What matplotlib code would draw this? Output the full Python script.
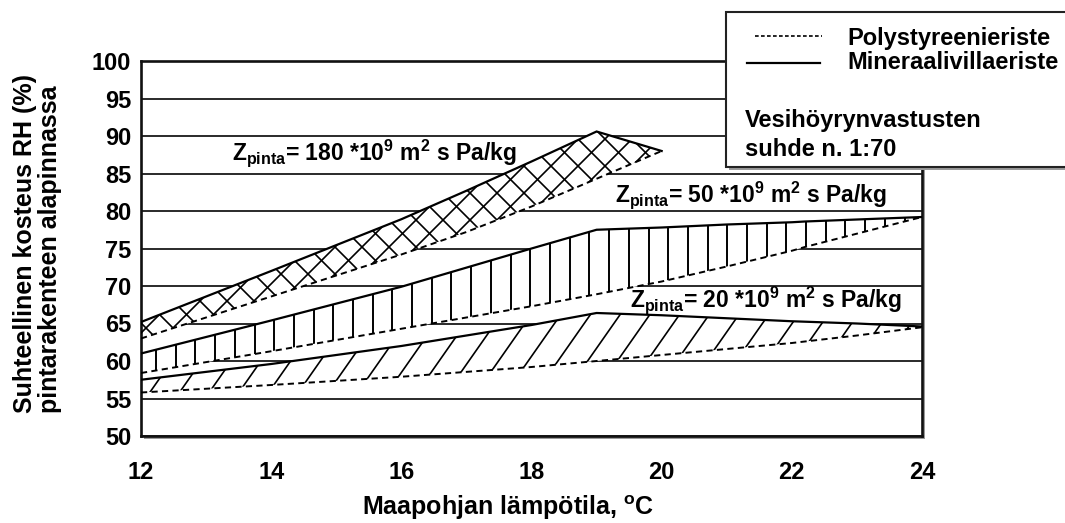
import numpy as np
import matplotlib
matplotlib.use("Agg")
import matplotlib.pyplot as plt
from matplotlib.collections import LineCollection
from matplotlib.patches import Rectangle
from matplotlib.lines import Line2D

plt.rcParams['font.family'] = ['Liberation Sans', 'DejaVu Sans']
plt.rcParams['font.weight'] = 'bold'
plt.rcParams['mathtext.fontset'] = 'custom'
plt.rcParams['mathtext.rm'] = 'Liberation Sans'
plt.rcParams['mathtext.bf'] = 'Liberation Sans:bold'
plt.rcParams['mathtext.it'] = 'Liberation Sans:italic'

# --- data: relative humidity (%) vs ground temperature (degC) ---
# Z_pinta = 180e9 m2 s Pa/kg
t180 = [12, 14, 16, 17, 18, 19, 20]
rh180_mineral = [65.2, 72.0, 78.9, 82.7, 86.6, 90.6, 88.0]
rh180_polystyr = [63.0, 68.6, 74.2, 77.2, 80.6, 84.3, 88.0]

# Z_pinta = 50e9 m2 s Pa/kg
t50 = [12, 14, 16, 18, 19, 20, 21, 22, 22.2, 24]
rh50_mineral = [61.0, 65.4, 69.9, 75.0, 77.5, 77.8, 78.2, 78.5, 78.6, 79.2]
rh50_polystyr = [58.4, 61.3, 64.3, 67.3, 68.9, 70.6, 72.6, 74.7, 75.2, 79.2]

# Z_pinta = 20e9 m2 s Pa/kg
t20 = [12, 14, 16, 18, 19, 20, 21, 22, 23, 24]
rh20_mineral = [57.5, 59.6, 62.0, 64.8, 66.4, 66.1, 65.7, 65.3, 65.0, 64.6]
rh20_polystyr = [55.8, 56.8, 57.9, 59.2, 60.0, 60.8, 61.6, 62.4, 63.4, 64.5]

xticks = [12, 14, 16, 18, 20, 22, 24]
yticks = list(range(50, 101, 5))

W_PX, H_PX = 1065, 523
fig = plt.figure(figsize=(W_PX / 100, H_PX / 100), dpi=100)


def fx(px):
    return px / W_PX


def fy(py):
    return 1 - py / H_PX


# axes box in pixels (left, top, right, bottom)
AX_L, AX_T, AX_R, AX_B = 141, 61, 922, 436
ax = fig.add_axes([fx(AX_L), fy(AX_B), fx(AX_R - AX_L), (AX_B - AX_T) / H_PX])
ax_w, ax_h = AX_R - AX_L, AX_B - AX_T

# drop shadow behind the plot frame
fig.patches.append(Rectangle((fx(AX_L + 3), fy(AX_B + 3)), fx(AX_R - AX_L), (AX_B - AX_T) / H_PX,
                             transform=fig.transFigure, facecolor='#9a9a9a', edgecolor='none',
                             zorder=-1))

ax.set_xlim(12, 24)
ax.set_ylim(50, 100)
ax.set_xticks(xticks)
ax.set_xticklabels([str(v) for v in xticks])
ax.set_yticks(yticks)
ax.set_yticklabels([str(v) for v in yticks])
ax.tick_params(axis='both', length=0, labelsize=17)
ax.tick_params(axis='x', pad=18)
ax.tick_params(axis='y', pad=7)
for lab in ax.get_xticklabels() + ax.get_yticklabels():
    lab.set_fontweight('bold')
for s in ax.spines.values():
    s.set_linewidth(1.9)
    s.set_color('#111111')
ax.yaxis.grid(True, color='#2a2a2a', linewidth=1.4)
ax.set_axisbelow(True)


def hatch_band(t, low, up, angles, spacing, phase=0.0, lw=1.2):
    poly = ax.fill_between(t, low, up, facecolor='white', edgecolor='none', zorder=2)
    clip = poly.get_paths()[0]
    segs = []
    for ang in angles:
        th = np.deg2rad(ang)
        dx = np.cos(th) / np.sin(th)
        if abs(dx) < 1e-9:
            dx = 0.0
        # x-intercepts at the bottom of the axes, spaced horizontally in pixels
        span = abs(dx) * ax_h
        k0 = int(np.floor((-span - phase) / spacing)) - 1
        k1 = int(np.ceil((ax_w + span - phase) / spacing)) + 1
        for k in range(k0, k1 + 1):
            c = phase + k * spacing
            segs.append([(c / ax_w, 0.0), ((c + dx * ax_h) / ax_w, 1.0)])
    lc = LineCollection(segs, colors='black', linewidths=lw, transform=ax.transAxes, zorder=3)
    ax.add_collection(lc)
    lc.set_clip_path(clip, ax.transData)


hatch_band(t180, rh180_polystyr, rh180_mineral, [45, 135], 27, phase=5)
hatch_band(t50, rh50_polystyr, rh50_mineral, [90], 19.7, phase=15, lw=1.4)
hatch_band(t20, rh20_polystyr, rh20_mineral, [55], 29.7, phase=8)

dash = (0, (3.2, 2.2))
for t, low, up in [(t180, rh180_polystyr, rh180_mineral),
                   (t50, rh50_polystyr, rh50_mineral),
                   (t20, rh20_polystyr, rh20_mineral)]:
    ax.plot(t, up, color='black', linewidth=1.6, zorder=4, solid_joinstyle='miter')
    ax.plot(t, low, color='black', linewidth=1.4, linestyle=dash, zorder=4)

# curve labels
lab_kw = dict(fontsize=16.5, fontweight='bold', va='center', ha='left', zorder=6,
              transform=fig.transFigure)
fig.text(fx(232), fy(153), r'$\mathbf{Z}_{\mathrm{pinta}}$= 180 *10$^{\mathbf{9}}$ m$^{\mathbf{2}}$ s Pa/kg', **lab_kw)
fig.text(fx(615), fy(195), r'$\mathbf{Z}_{\mathrm{pinta}}$= 50 *10$^{\mathbf{9}}$ m$^{\mathbf{2}}$ s Pa/kg', **lab_kw)
fig.text(fx(630), fy(300), r'$\mathbf{Z}_{\mathrm{pinta}}$= 20 *10$^{\mathbf{9}}$ m$^{\mathbf{2}}$ s Pa/kg', **lab_kw)

# axis titles
fig.text(fx(508), fy(508), 'Maapohjan lämpötila, $^{\\mathbf{o}}$C', fontsize=18,
         fontweight='bold', ha='center', va='center')
fig.text(fx(37.5), fy(413), 'Suhteellinen kosteus RH (%)\npintarakenteen alapinnassa',
         fontsize=18, fontweight='bold', rotation=90, ha='center', va='bottom',
         multialignment='left', linespacing=1.1)

# key box over the upper right corner
BOX_L, BOX_T, BOX_B = 726, 12, 167
fig.patches.append(Rectangle((fx(BOX_L + 3), fy(BOX_B + 3)), 0.5, (BOX_B - BOX_T) / H_PX,
                             transform=fig.transFigure, facecolor='#9a9a9a', edgecolor='none',
                             zorder=7))
fig.patches.append(Rectangle((fx(BOX_L), fy(BOX_B)), 0.5, (BOX_B - BOX_T) / H_PX,
                             transform=fig.transFigure, facecolor='white', edgecolor='#222222',
                             linewidth=1.5, zorder=8))
fig.lines.append(Line2D([fx(755), fx(822)], [fy(36), fy(36)], transform=fig.transFigure,
                        color='black', linewidth=1.2, linestyle=(0, (2.2, 1.4)), zorder=9))
fig.lines.append(Line2D([fx(747), fx(820)], [fy(63), fy(63)], transform=fig.transFigure,
                        color='black', linewidth=1.6, zorder=9))
key_kw = dict(fontsize=17, fontweight='bold', ha='left', va='center', zorder=10)
fig.text(fx(847), fy(39), 'Polystyreenieriste', **key_kw)
fig.text(fx(847), fy(62), 'Mineraalivillaeriste', **key_kw)
fig.text(fx(745), fy(121), 'Vesihöyrynvastusten', **key_kw)
fig.text(fx(745), fy(149), 'suhde n. 1:70', **key_kw)

fig.savefig('out.png', dpi=100)
